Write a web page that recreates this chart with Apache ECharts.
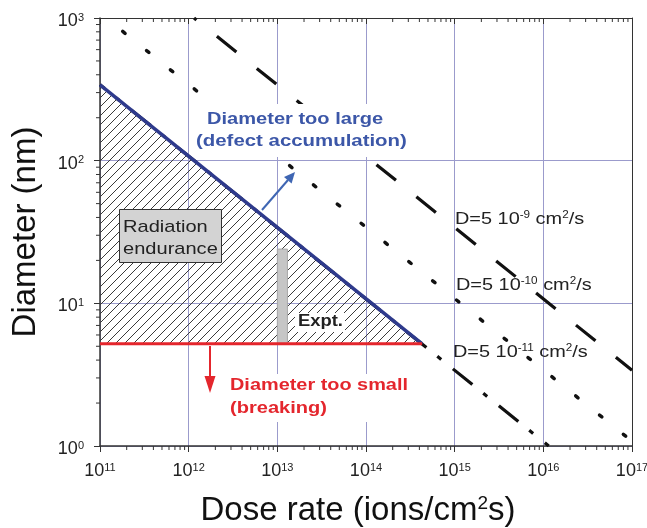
<!DOCTYPE html>
<html>
<head>
<meta charset="utf-8">
<title>Diameter vs dose rate</title>
<script src="https://cdn.jsdelivr.net/npm/echarts@6/dist/echarts.min.js"></script>
<style>
  html, body { margin: 0; padding: 0; background: #fff; }
  #chart { width: 647px; height: 528px; }
</style>
</head>
<body>
<div id="chart"></div>
<script>
// decade ticks of both log axes
const xTicks = [1e11, 1e12, 1e13, 1e14, 1e15, 1e16, 1e17];
const yTicks = [1, 10, 100, 1000];

// diffusion lines, [dose rate, diameter] end points
const lineD9 = [[1.15e12, 1000], [1e17, 3.4]];
const lineD10 = [[1.17e11, 1000], [1e17, 1.08]];
const lineD11 = [[1e11, 340], [1.15e16, 1]];

// upper bound (defect accumulation) and lower bound (breaking)
const upperBound = [[1e11, 340], [4.3e14, 5.2]];
const lowerBound = [[1e11, 5.2], [4.3e14, 5.2]];

// experimental range: [x from, x to, y from, y to]
const exptBar = [[1e13, 1.3e13, 5.2, 24]];

const fontFamily = '"Liberation Sans", Arial, sans-serif';

// minor ticks 2..9 inside each decade
const minorTicks = [];
xTicks.slice(0, -1).forEach((d) => {
  for (let k = 2; k <= 9; k++) minorTicks.push([d * k, 1, 0]);
});
yTicks.slice(0, -1).forEach((d) => {
  for (let k = 2; k <= 9; k++) minorTicks.push([1e11, d * k, 1]);
});

// hatch pattern for the radiation endurance region
const hatch = document.createElement('canvas');
hatch.width = 9;
hatch.height = 9;
const hctx = hatch.getContext('2d');
hctx.strokeStyle = '#3a3a3a';
hctx.lineWidth = 1;
hctx.beginPath();
hctx.moveTo(-1, 10); hctx.lineTo(10, -1);
hctx.moveTo(-1, 1); hctx.lineTo(1, -1);
hctx.moveTo(8, 10); hctx.lineTo(10, 8);
hctx.stroke();

const expLabel = (v) => '10{sup|' + Math.round(Math.log10(v)) + '}';
const tickRich = { sup: { fontSize: 11, verticalAlign: 'top', color: '#222', fontFamily: fontFamily } };

const chart = echarts.init(document.getElementById('chart'));

const option = {
  backgroundColor: '#fff',
  animation: false,
  grid: { left: 100, right: 15, top: 18, bottom: 82, outerBoundsMode: 'none' },
  xAxis: [
    {
      type: 'log',
      logBase: 10,
      min: 1e11,
      max: 1e17,
      splitNumber: 6,
      position: 'bottom',
      axisLine: { show: true, lineStyle: { color: '#333', width: 1.5 } },
      axisTick: { show: true, inside: false, length: 6, lineStyle: { color: '#333' } },
      axisLabel: { margin: 16, formatter: expLabel, color: '#222', fontSize: 18, fontFamily: fontFamily, rich: tickRich },
      splitLine: { show: true, lineStyle: { color: '#9b9bcc', width: 1 } },
      name: 'Dose rate (ions/cm{sup|2}s)',
      nameLocation: 'middle',
      nameGap: 48,
      nameTextStyle: {
        fontSize: 33,
        color: '#111',
        fontFamily: fontFamily,
        padding: [0, 16, 0, 0],
        rich: { sup: { fontSize: 19, verticalAlign: 'top', color: '#111', fontFamily: fontFamily } },
      },
    },
    {
      type: 'log',
      logBase: 10,
      min: 1e11,
      max: 1e17,
      splitNumber: 6,
      position: 'top',
      axisLine: { show: true, lineStyle: { color: '#333', width: 1 } },
      axisTick: { show: true, inside: true, length: 6, lineStyle: { color: '#333' } },
      axisLabel: { show: false },
      splitLine: { show: false },
    },
  ],
  yAxis: [
    {
      type: 'log',
      logBase: 10,
      min: 1,
      max: 1000,
      splitNumber: 3,
      position: 'left',
      axisLine: { show: true, lineStyle: { color: '#333', width: 1.5 } },
      axisTick: { show: true, inside: false, length: 6, lineStyle: { color: '#333' } },
      axisLabel: {
        margin: 16, formatter: expLabel, color: '#222', fontSize: 18, fontFamily: fontFamily, rich: tickRich,
        padding: [6, 0, 0, 0],
      },
      splitLine: { show: true, lineStyle: { color: '#9b9bcc', width: 1 } },
      name: 'Diameter (nm)',
      nameLocation: 'middle',
      nameGap: 58,
      nameRotate: 90,
      nameTextStyle: { fontSize: 33, color: '#111', fontFamily: fontFamily },
    },
    {
      type: 'log',
      logBase: 10,
      min: 1,
      max: 1000,
      position: 'right',
      axisLine: { show: true, lineStyle: { color: '#333', width: 1 } },
      axisTick: { show: false },
      axisLabel: { show: false },
      splitLine: { show: false },
    },
  ],
  series: [
    {
      // hatched triangle between the two bounds
      type: 'custom',
      silent: true,
      data: [upperBound[0]],
      renderItem: (params, api) => {
        const pts = [upperBound[0], upperBound[1], lowerBound[0]].map((p) => api.coord(p));
        return {
          type: 'polygon',
          shape: { points: pts },
          style: { fill: { image: hatch, repeat: 'repeat' }, stroke: null },
        };
      },
    },
    {
      name: 'D=5e-9',
      type: 'line',
      data: lineD9,
      showSymbol: false,
      lineStyle: { color: '#111', width: 3.2, type: [25, 26.2], dashOffset: 21.9 },
    },
    {
      name: 'D=5e-10',
      type: 'line',
      data: lineD10,
      showSymbol: false,
      lineStyle: { color: '#111', width: 3.5, type: [3, 27.6], dashOffset: 9.2, cap: 'round' },
    },
    {
      name: 'D=5e-11',
      type: 'line',
      data: lineD11,
      showSymbol: false,
      lineStyle: { color: '#111', width: 3.2, type: [25, 14, 5, 15], dashOffset: 19 },
    },
    {
      // experimental bar
      type: 'custom',
      silent: true,
      data: exptBar,
      encode: { x: [0, 1], y: [2, 3] },
      renderItem: (params, api) => {
        const p0 = api.coord([api.value(0), api.value(2)]);
        const p1 = api.coord([api.value(1), api.value(3)]);
        return {
          type: 'rect',
          shape: { x: p0[0], y: p1[1], width: p1[0] - p0[0], height: p0[1] - p1[1] },
          style: { fill: '#c6c6c6', stroke: '#a8a8a8', lineWidth: 1 },
        };
      },
    },
    {
      name: 'upper',
      type: 'line',
      data: upperBound,
      showSymbol: false,
      lineStyle: { color: '#2e3a8c', width: 3.5 },
    },
    {
      name: 'lower',
      type: 'line',
      data: lowerBound,
      showSymbol: false,
      lineStyle: { color: '#e4262d', width: 3 },
    },
    {
      // log minor ticks
      type: 'custom',
      silent: true,
      clip: false,
      data: minorTicks,
      renderItem: (params, api) => {
        const kind = api.value(2);
        const st = { stroke: '#333', lineWidth: 1 };
        if (kind === 0) {
          const b = api.coord([api.value(0), 1]);
          const t = api.coord([api.value(0), 1000]);
          return {
            type: 'group',
            children: [
              { type: 'line', shape: { x1: b[0], y1: b[1], x2: b[0], y2: b[1] + 4 }, style: st },
              { type: 'line', shape: { x1: t[0], y1: t[1], x2: t[0], y2: t[1] + 4 }, style: st },
            ],
          };
        }
        const l = api.coord([1e11, api.value(1)]);
        return { type: 'line', shape: { x1: l[0] - 4, y1: l[1], x2: l[0], y2: l[1] }, style: st };
      },
    },
  ],
  graphic: [
    // white backgrounds behind the annotations
    { type: 'rect', z: 50, shape: { x: 194, y: 104, width: 220, height: 53 }, style: { fill: '#fff' } },
    { type: 'rect', z: 50, shape: { x: 227, y: 374, width: 184, height: 48 }, style: { fill: '#fff' } },
    { type: 'rect', z: 50, shape: { x: 295, y: 313, width: 50, height: 19 }, style: { fill: '#fff' } },
    {
      type: 'rect', z: 50,
      shape: { x: 119.5, y: 209.5, width: 102, height: 53 },
      style: { fill: '#d3d3d3', stroke: '#333', lineWidth: 1 },
    },
    {
      type: 'text', z: 60, x: 123, y: 227, scaleX: 1.18,
      style: { text: 'Radiation', font: '17px ' + fontFamily, fill: '#222', verticalAlign: 'middle' },
    },
    {
      type: 'text', z: 60, x: 123, y: 249, scaleX: 1.18,
      style: { text: 'endurance', font: '17px ' + fontFamily, fill: '#222', verticalAlign: 'middle' },
    },
    {
      type: 'text', z: 60, x: 298, y: 322, scaleX: 1.15,
      style: { text: 'Expt.', font: 'bold 16px ' + fontFamily, fill: '#222', verticalAlign: 'middle' },
    },
    {
      type: 'text', z: 60, x: 207, y: 119, scaleX: 1.18,
      style: { text: 'Diameter too large', font: 'bold 17px ' + fontFamily, fill: '#3c57a8', verticalAlign: 'middle' },
    },
    {
      type: 'text', z: 60, x: 196, y: 141, scaleX: 1.2,
      style: { text: '(defect accumulation)', font: 'bold 17px ' + fontFamily, fill: '#3c57a8', verticalAlign: 'middle' },
    },
    {
      type: 'text', z: 60, x: 230, y: 385, scaleX: 1.17,
      style: { text: 'Diameter too small', font: 'bold 17px ' + fontFamily, fill: '#e4262d', verticalAlign: 'middle' },
    },
    {
      type: 'text', z: 60, x: 230, y: 408, scaleX: 1.18,
      style: { text: '(breaking)', font: 'bold 17px ' + fontFamily, fill: '#e4262d', verticalAlign: 'middle' },
    },
    {
      type: 'text', z: 60, x: 455, y: 219, scaleX: 1.17,
      style: {
        text: 'D=5 10{sup|-9} cm{sup|2}/s', fontSize: 17, fontFamily: fontFamily, fill: '#222', verticalAlign: 'middle',
        rich: { sup: { fontSize: 10, verticalAlign: 'top', fill: '#222', fontFamily: fontFamily } },
      },
    },
    {
      type: 'text', z: 60, x: 456, y: 285, scaleX: 1.17,
      style: {
        text: 'D=5 10{sup|-10} cm{sup|2}/s', fontSize: 17, fontFamily: fontFamily, fill: '#222', verticalAlign: 'middle',
        rich: { sup: { fontSize: 10, verticalAlign: 'top', fill: '#222', fontFamily: fontFamily } },
      },
    },
    {
      type: 'text', z: 60, x: 453, y: 352, scaleX: 1.17,
      style: {
        text: 'D=5 10{sup|-11} cm{sup|2}/s', fontSize: 17, fontFamily: fontFamily, fill: '#222', verticalAlign: 'middle',
        rich: { sup: { fontSize: 10, verticalAlign: 'top', fill: '#222', fontFamily: fontFamily } },
      },
    },
    // arrows
    { type: 'line', z: 60, shape: { x1: 262, y1: 210, x2: 288, y2: 180 }, style: { stroke: '#3f66b3', lineWidth: 2 } },
    {
      type: 'polygon', z: 60,
      shape: { points: [[295, 172], [291.6, 183.6], [284, 177]] },
      style: { fill: '#3f66b3' },
    },
    { type: 'line', z: 60, shape: { x1: 210, y1: 346, x2: 210, y2: 378 }, style: { stroke: '#e4262d', lineWidth: 2 } },
    {
      type: 'polygon', z: 60,
      shape: { points: [[204.5, 376], [215.5, 376], [210, 393]] },
      style: { fill: '#e4262d' },
    },
  ],
};

chart.setOption(option);
</script>
</body>
</html>
